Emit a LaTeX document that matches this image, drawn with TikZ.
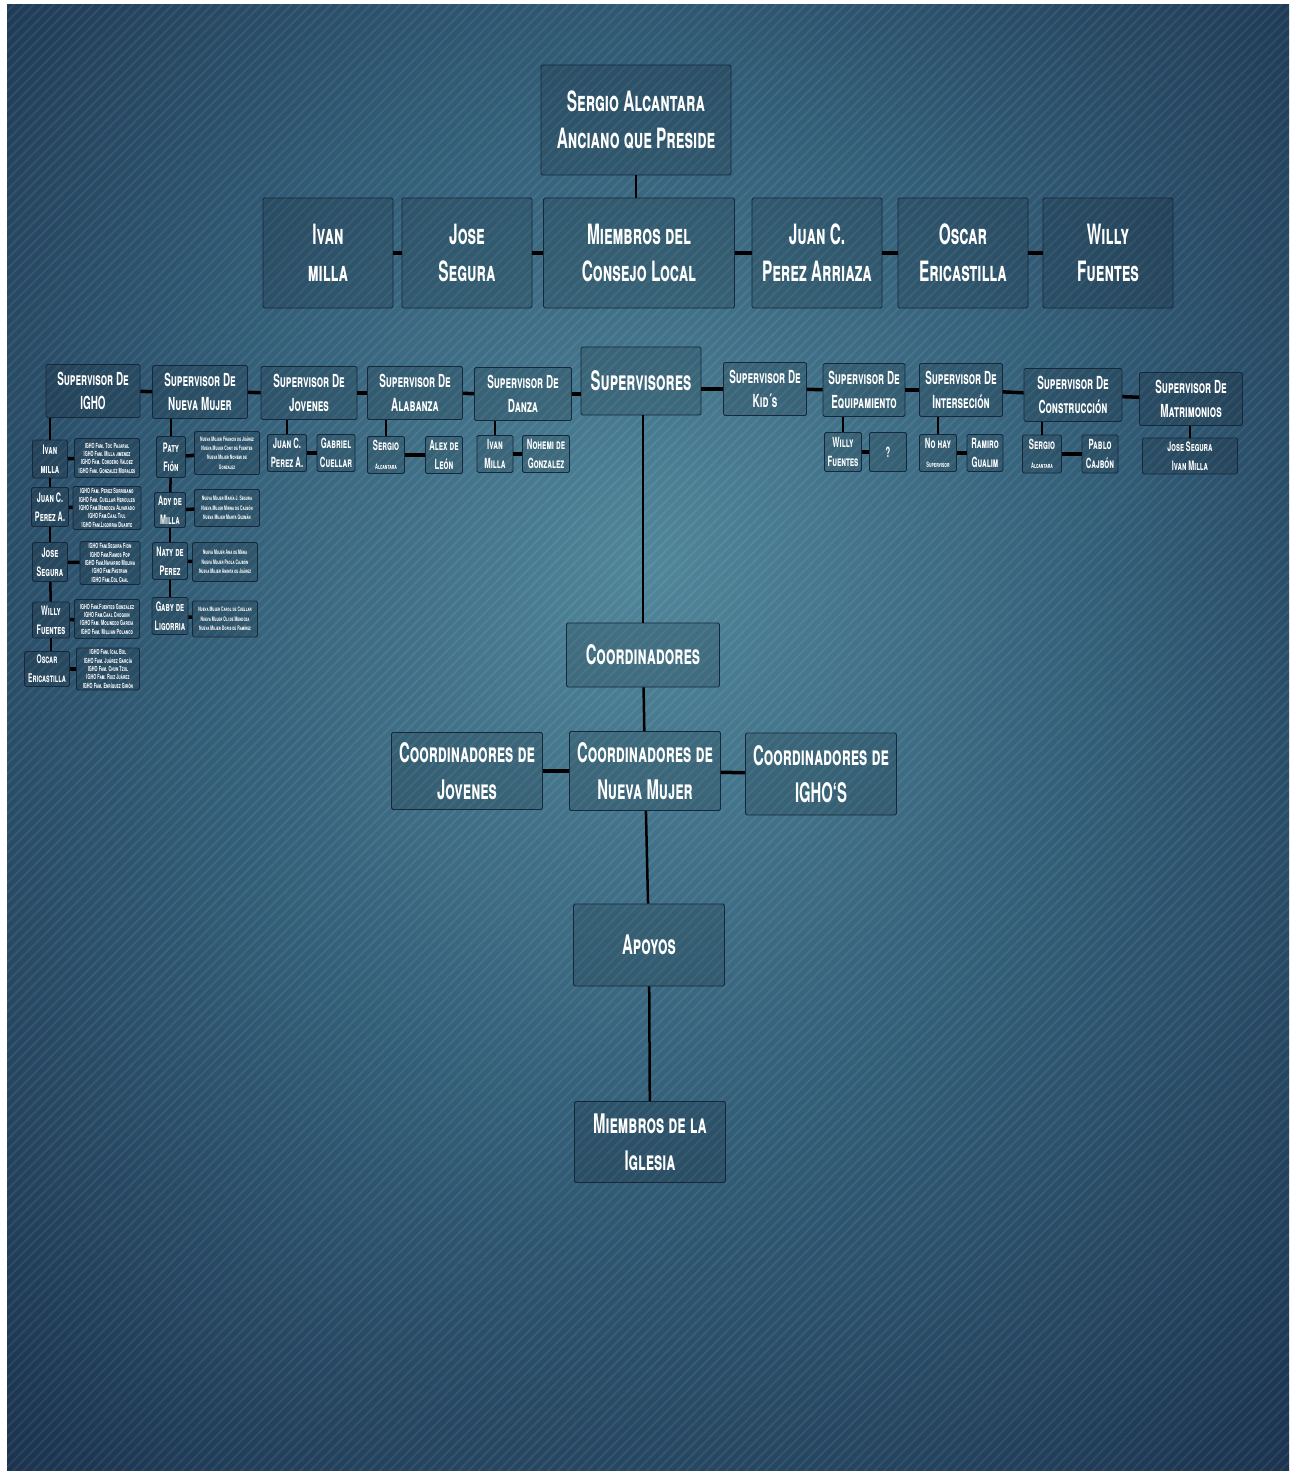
\documentclass[tikz,border=0pt]{standalone}
\usepackage{fontspec}
\setmainfont{TeX Gyre Heros}[FakeStretch=0.55]
\usetikzlibrary{patterns.meta}

\definecolor{glowin}{RGB}{80,134,154}
\definecolor{glowmid}{RGB}{52,96,122}
\definecolor{glowout}{RGB}{28,53,81}
\definecolor{glowedge}{RGB}{16,31,54}
\definecolor{boxline}{RGB}{22,40,60}
\pgfdeclareradialshading{backglow}{\pgfpoint{0bp}{6bp}}{color(0bp)=(glowin); color(17bp)=(glowmid); color(36bp)=(glowout); color(64bp)=(glowedge)}

\tikzstyle{box}     = [rectangle, draw=boxline, line width=0.8pt, fill=black, fill opacity=0.13, text opacity=1, text=white, align=center, inner sep=0pt, rounded corners=1.5pt]
\tikzstyle{elder}   = [box, minimum width=190, minimum height=110, font=\bfseries\scshape\fontsize{28}{37}\selectfont]
\tikzstyle{council} = [box, minimum width=130, minimum height=110, font=\bfseries\scshape\fontsize{28}{37}\selectfont]
\tikzstyle{area}    = [box, minimum width=151, minimum height=80, font=\bfseries\scshape\fontsize{27}{37}\selectfont]
\tikzstyle{super}   = [box, minimum width=95, minimum height=53, font=\bfseries\scshape\fontsize{18}{24}\selectfont]
\tikzstyle{member}  = [box, minimum width=37, minimum height=37, font=\bfseries\scshape\fontsize{14}{19}\selectfont]
\tikzstyle{family}  = [box, minimum width=65, minimum height=40, font=\bfseries\scshape\fontsize{7}{8.3}\selectfont]
\tikzstyle{mujer}   = [box, minimum width=65, minimum height=38, font=\bfseries\scshape\fontsize{6.2}{9.3}\selectfont]
\tikzstyle{link}     = [draw, line width=3.5pt]
\tikzstyle{stem}     = [draw, line width=2.5pt]
\tikzstyle{hairlink} = [draw, line width=1.5pt]

\begin{document}
\begin{tikzpicture}[x=1pt, y=-1pt]
    \useasboundingbox (0,0) rectangle (1295,1474);
    % background
    \fill[white] (0,0) rectangle (1295,1474);
    \shade[shading=backglow] (7,5) rectangle (1289,1470);
    \fill[pattern={Lines[angle=45,distance=7pt,line width=2pt]}, pattern color=white, opacity=0.07] (7,5) rectangle (1289,1470);

    % consejo
    \node[elder] (anciano) at (636,120) {Sergio Alcantara\\Anciano que Preside};
    \node[council] (ivan) at (328,253) {Ivan\\milla};
    \node[council] (jose) at (467,253) {Jose\\Segura};
    \node[council, minimum width=191] (consejo) at (639,253) {Miembros del\\Consejo Local};
    \node[council] (juan) at (817,253) {Juan C.\\Perez Arriaza};
    \node[council] (oscar) at (963,253) {Oscar\\Ericastilla};
    \node[council] (willy) at (1108,253) {Willy\\Fuentes};

    % supervisores
    \node[area, minimum width=120, minimum height=68] (supervisores) at (641,381) {Supervisores};
    \node[super, minimum width=94] (supigho) at (93,391) {Supervisor De\\IGHO};
    \node[super] (supmujer) at (200,392) {Supervisor De\\Nueva Mujer};
    \node[super, minimum width=96] (supjovenes) at (309,393) {Supervisor De\\Jovenes};
    \node[super] (supalabanza) at (415,393) {Supervisor De\\Alabanza};
    \node[super, minimum width=97] (supdanza) at (523,394) {Supervisor De\\Danza};
    \node[super, minimum width=83] (supkids) at (765,389) {Supervisor De\\Kid´s};
    \node[super, minimum width=82] (supequipo) at (864,390) {Supervisor De\\Equipamiento};
    \node[super, minimum width=83] (supinter) at (961,390) {Supervisor De\\Interseción};
    \node[super, minimum width=98] (supobra) at (1073,395) {Supervisor De\\Construcción};
    \node[super, minimum width=103] (supboda) at (1191,399) {Supervisor De\\Matrimonios};

    % encargados
    \node[member, minimum width=39] (jovjuan) at (287,453) {Juan C.\\Perez A.};
    \node[member, minimum width=38] (jovgabriel) at (336,453) {Gabriel\\Cuellar};
    \node[member] (alabsergio) at (386,455) {Sergio\\{\fontsize{7.5}{8}\selectfont Alcantara}};
    \node[member] (alabalex) at (444,455) {Alex de\\León};
    \node[member, minimum width=36] (danzaivan) at (495,454) {Ivan\\Milla};
    \node[member, minimum width=47] (danzanohemi) at (546,454) {Nohemi de\\Gonzalez};
    \node[member, minimum height=39] (equipowilly) at (843,452) {Willy\\Fuentes};
    \node[member, minimum height=39] (equipoduda) at (888,452) {?};
    \node[member] (internohay) at (938,453) {No hay\\{\fontsize{7.5}{8}\selectfont Supervisor}};
    \node[member, minimum width=36] (interramiro) at (985,453) {Ramiro\\Gualim};
    \node[member, minimum width=39, minimum height=38] (obrasergio) at (1042,454) {Sergio\\{\fontsize{7.5}{8}\selectfont Alcantara}};
    \node[member, minimum width=36, minimum height=38] (obrapablo) at (1100,454) {Pablo\\Cajbón};
    \node[member, minimum width=95, minimum height=36, font=\bfseries\scshape\fontsize{13}{19}\selectfont] (bodapareja) at (1190,456) {Jose Segura\\Ivan Milla};

    % igho
    \node[member, minimum width=35, minimum height=38, font=\bfseries\scshape\fontsize{13}{19}\selectfont] (ighoivan) at (50,459) {Ivan\\milla};
    \node[family, minimum height=39] (ighofam1) at (107,458) {IGHO Fam. Toc Pajaral\\IGHO Fam. Milla jimenez\\IGHO Fam. Cordero Valdez\\IGHO Fam. Gonzalez Morales};
    \node[member, minimum height=39, font=\bfseries\scshape\fontsize{13}{19}\selectfont] (ighojuan) at (50,507) {Juan C.\\Perez A.};
    \node[family, minimum width=68, minimum height=43] (ighofam2) at (107,508) {IGHO Fam. Perez Sorribano\\IGHO Fam. Cuellar Hercules\\IGHO Fam.Mendoza Alvarado\\IGHO Fam.Caal Tiul\\IGHO Fam.Ligorria Duarte};
    \node[member, minimum width=35, minimum height=39, font=\bfseries\scshape\fontsize{13}{19}\selectfont] (ighojose) at (50,562) {Jose\\Segura};
    \node[family, minimum width=60, minimum height=43] (ighofam3) at (110,563) {IGHO Fam.Segura Fion\\IGHO Fam.Ramos Pop\\IGHO Fam.Navarro Molina\\IGHO Fam.Pastran\\IGHO Fam.Col Caal};
    \node[member, minimum height=36, font=\bfseries\scshape\fontsize{13}{19}\selectfont] (ighowilly) at (51,620) {Willy\\Fuentes};
    \node[family, minimum height=39] (ighofam4) at (107,619) {IGHO Fam.Fuentes Gonzalez\\IGHO Fam.Caal Choguin\\IGHO Fam. Molinedo Garcia\\IGHO Fam. Millian Polanco};
    \node[member, minimum width=45, minimum height=35, font=\bfseries\scshape\fontsize{12}{19}\selectfont] (ighooscar) at (47,669) {Oscar\\Ericastilla};
    \node[family, minimum width=63, minimum height=42] (ighofam5) at (108,669) {IGHO Fam. Ical Bol\\IGHO Fam. Juárez García\\IGHO Fam. Chun Tzul\\IGHO Fam. Ruiz Juárez\\IGHO Fam. Enríquez Girón};

    % nueva mujer
    \node[member, minimum width=29, minimum height=41, font=\bfseries\scshape\fontsize{13}{19}\selectfont] (mujerpaty) at (171,457) {Paty\\Fión};
    \node[mujer, minimum height=43] (mujergrupo1) at (227,453) {Nueva Mujer Francis de Juárez\\Nueva Mujer Cony de Fuentes\\Nueva Mujer Nohemi de\\Gonzalez};
    \node[member, minimum width=31, minimum height=35, font=\bfseries\scshape\fontsize{13}{19}\selectfont] (mujerady) at (170,510) {Ady de\\Milla};
    \node[mujer, minimum height=37] (mujergrupo2) at (227,508) {Nueva Mujer María J. Segura\\Nueva Mujer Mirna de Cajbón\\Nueva Mujer Marta Guzmán};
    \node[member, minimum width=35, font=\bfseries\scshape\fontsize{13}{19}\selectfont] (mujernaty) at (170,561) {Naty de\\Perez};
    \node[mujer, minimum height=39] (mujergrupo3) at (225,562) {Nueva Mujer Ana de Mena\\Nueva Mujer Paola Cajbón\\Nueva Mujer Aminta de Juárez};
    \node[member, minimum width=36, font=\bfseries\scshape\fontsize{13}{19}\selectfont] (mujergaby) at (170,616) {Gaby de\\Ligorria};
    \node[mujer, minimum height=36] (mujergrupo4) at (225,619) {Nueva Mujer Carol de Cuellar\\Nueva Mujer Oli de Mendoza\\Nueva Mujer Doris de Ramírez};

    % coordinadores
    \node[area, minimum width=153, minimum height=64] (coord) at (643,655) {Coordinadores};
    \node[area, minimum height=77] (coordjov) at (467,771) {Coordinadores de\\Jovenes};
    \node[area, minimum height=79] (coordmujer) at (645,771) {Coordinadores de\\Nueva Mujer};
    \node[area, minimum height=82] (coordigho) at (821,774) {Coordinadores de\\IGHO`S};
    \node[area, minimum height=82] (apoyos) at (649,945) {Apoyos};
    \node[area, minimum height=81] (iglesia) at (650,1142) {Miembros de la\\Iglesia};

    % lines
    \path[hairlink] (anciano.south) -- (anciano.south |- consejo.north);
    \path[link] (ivan) -- (jose);
    \path[link] (jose) -- (consejo);
    \path[link] (consejo) -- (juan);
    \path[link] (juan) -- (oscar);
    \path[link] (oscar) -- (willy);

    \path[link] (supigho) -- (supmujer);
    \path[link] (supmujer) -- (supjovenes);
    \path[link] (supjovenes) -- (supalabanza);
    \path[link] (supalabanza) -- (supdanza);
    \path[link] (supdanza.east) -- (supdanza.east -| supervisores.west);
    \path[link] (supkids.west) -- (supkids.west -| supervisores.east);
    \path[link] (supkids) -- (supequipo);
    \path[link] (supequipo) -- (supinter);
    \path[link] (supinter) -- (supobra);
    \path[link] (supobra) -- (supboda);

    \path[stem] (jovjuan.north) -- (jovjuan.north |- supjovenes.south);
    \path[link] (jovjuan) -- (jovgabriel);
    \path[stem] (alabsergio.north) -- (alabsergio.north |- supalabanza.south);
    \path[link] (alabsergio) -- (alabalex);
    \path[stem] (danzaivan.north) -- (danzaivan.north |- supdanza.south);
    \path[link] (danzaivan) -- (danzanohemi);
    \path[stem] (equipowilly.north) -- (equipowilly.north |- supequipo.south);
    \path[link] (equipowilly) -- (equipoduda);
    \path[stem] (internohay.north) -- (internohay.north |- supinter.south);
    \path[link] (internohay) -- (interramiro);
    \path[stem] (obrasergio.north) -- (obrasergio.north |- supobra.south);
    \path[link] (obrasergio) -- (obrapablo);
    \path[stem] (bodapareja.north) -- (bodapareja.north |- supboda.south);

    \path[stem] (ighoivan.north) -- (ighoivan.north |- supigho.south);
    \path[stem] (ighoivan) -- (ighojuan);
    \path[stem] (ighojuan) -- (ighojose);
    \path[stem] (ighojose) -- (ighowilly);
    \path[stem] (ighowilly.south) -- (ighowilly.south |- ighooscar.north);
    \path[link] (ighoivan) -- (ighofam1);
    \path[link] (ighojuan) -- (ighofam2);
    \path[link] (ighojose) -- (ighofam3);
    \path[link] (ighowilly) -- (ighofam4);
    \path[link] (ighooscar) -- (ighofam5);

    \path[stem] (mujerpaty.north) -- (mujerpaty.north |- supmujer.south);
    \path[stem] (mujerpaty) -- (mujerady);
    \path[stem] (mujerady) -- (mujernaty);
    \path[stem] (mujernaty) -- (mujergaby);
    \path[link] (mujerpaty) -- (mujergrupo1);
    \path[link] (mujerady) -- (mujergrupo2);
    \path[link] (mujernaty) -- (mujergrupo3);
    \path[link] (mujergaby) -- (mujergrupo4);

    \path[stem] (coord.north) -- (coord.north |- supervisores.south);
    \path[stem] (coord) -- (coordmujer);
    \path[link] (coordjov) -- (coordmujer);
    \path[link] (coordmujer) -- (coordigho);
    \path[stem] (coordmujer) -- (apoyos);
    \path[stem] (apoyos) -- (iglesia);
\end{tikzpicture}
\end{document}
